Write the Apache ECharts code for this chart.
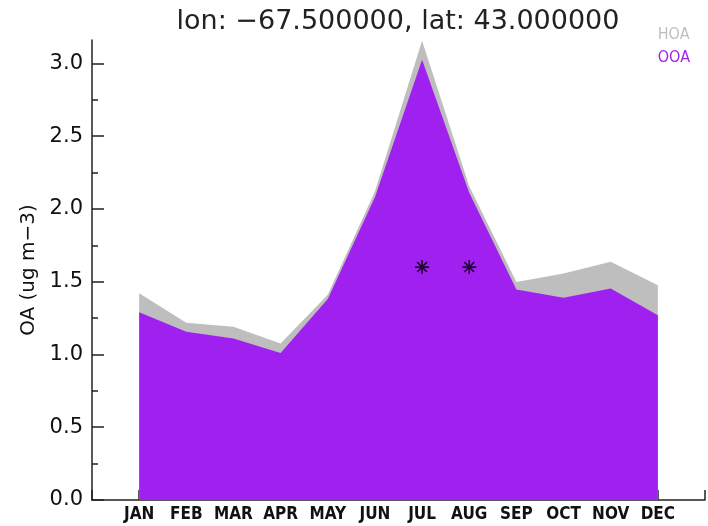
<!DOCTYPE html>
<html><head><meta charset="utf-8">
<script src="https://cdn.jsdelivr.net/npm/echarts@6/dist/echarts.min.js"></script>
<style>html,body{margin:0;padding:0;background:#fff}#c{width:708px;height:526px}</style>
</head><body><div id="c"></div>
<script>
const months = ['JAN','FEB','MAR','APR','MAY','JUN','JUL','AUG','SEP','OCT','NOV','DEC'];
const ooa = [1.29, 1.155, 1.11, 1.01, 1.38, 2.08, 3.025, 2.11, 1.446, 1.389, 1.453, 1.27];
const hoa = [0.13, 0.062, 0.08, 0.065, 0.03, 0.04, 0.13, 0.045, 0.052, 0.167, 0.183, 0.206];
const starMonths = ['JUL', 'AUG'];
const starValues = [1.6, 1.6];
const yMajorTicks = [0, 0.5, 1.0, 1.5, 2.0, 2.5, 3.0];
const yMinorTicks = [0.25, 0.75, 1.25, 1.75, 2.25, 2.75];
const titleText = 'lon: \u221267.500000, lat: 43.000000';
const yName = 'OA (ug m\u22123)';

const FONT = 'DejaVu Sans';
const CFONT = '"DejaVu Sans Condensed", "DejaVu Sans"';
const ooaData = months.map((m, i) => [i + 1, ooa[i]]);
const totData = months.map((m, i) => [i + 1, +(ooa[i] + hoa[i]).toFixed(3)]);
const starData = starMonths.map((m, i) => [months.indexOf(m) + 1, starValues[i]]);
const starPath = 'path://M-0.7,-6L0.7,-6L0.7,6L-0.7,6Z M-6,-0.7L6,-0.7L6,0.7L-6,0.7Z M-4.7,-3.7L-3.7,-4.7L4.7,3.7L3.7,4.7Z M3.7,-4.7L4.7,-3.7L-3.7,4.7L-4.7,3.7Z';

const chart = echarts.init(document.getElementById('c'), null, {renderer: 'canvas'});
chart.setOption({
  animation: false,
  backgroundColor: '#fff',
  graphic: [{
    type: 'text', x: 398, y: 22,
    style: {text: titleText, font: '27px "' + FONT + '"', fill: '#222', align: 'center', verticalAlign: 'middle'}
  }],
  legend: {
    orient: 'vertical', right: 13, top: 22, itemGap: 7, itemWidth: 0, itemHeight: 0,
    icon: 'none', align: 'left',
    textStyle: {fontFamily: CFONT, fontSize: 16},
    data: [
      {name: 'HOA', textStyle: {color: '#bebebe'}},
      {name: 'OOA', textStyle: {color: '#a020f0'}}
    ]
  },
  grid: {left: 92, right: 1, top: 40, bottom: 26, containLabel: false},
  xAxis: {
    type: 'value', min: 0, max: 13, interval: 1,
    axisLine: {show: true, lineStyle: {color: '#222', width: 1.5}},
    axisTick: {show: true, inside: true, length: 10, lineStyle: {color: '#222', width: 1.5}},
    axisLabel: {
      margin: 6, color: '#111', fontFamily: CFONT, fontWeight: 'bold', fontSize: 17,
      formatter: v => (v >= 1 && v <= 12) ? months[v - 1] : ''
    },
    splitLine: {show: false}
  },
  yAxis: [{
    type: 'value', min: 0, max: 3.16, position: 'left',
    name: yName, nameLocation: 'middle', nameGap: 52, nameRotate: 90,
    nameTextStyle: {fontFamily: FONT, fontSize: 20, color: '#111'},
    axisLine: {show: true, lineStyle: {color: '#222', width: 1.5}},
    axisTick: {show: true, inside: true, length: 12, customValues: yMajorTicks, lineStyle: {color: '#222', width: 1.5}},
    axisLabel: {customValues: yMajorTicks, margin: 9, color: '#111', fontFamily: FONT, fontSize: 21,
      formatter: v => v.toFixed(1)},
    splitLine: {show: false}
  }, {
    type: 'value', min: 0, max: 3.16, position: 'left', offset: 0,
    axisLine: {show: false},
    axisTick: {show: true, inside: true, length: 6, customValues: yMinorTicks, lineStyle: {color: '#222', width: 1.5}},
    axisLabel: {show: false},
    splitLine: {show: false}
  }],
  series: [{
    name: 'HOA', type: 'line', data: totData, symbol: 'none',
    lineStyle: {width: 0}, itemStyle: {color: '#bebebe'},
    areaStyle: {color: '#bebebe', opacity: 1}
  }, {
    name: 'OOA', type: 'line', data: ooaData, symbol: 'none',
    lineStyle: {width: 0}, itemStyle: {color: '#a020f0'},
    areaStyle: {color: '#a020f0', opacity: 1}
  }, {
    name: 'obs', type: 'scatter', data: starData, symbol: starPath, symbolSize: 14,
    itemStyle: {color: '#000'}, z: 5
  }]
});
</script></body></html>
